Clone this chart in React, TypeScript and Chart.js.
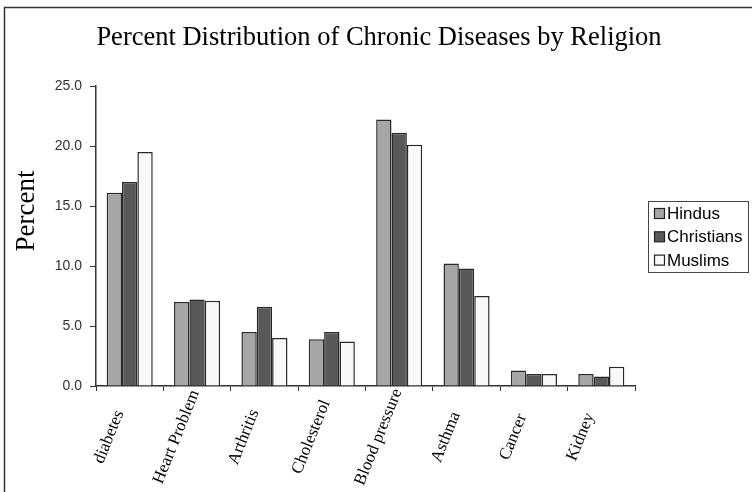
import React, { useEffect, useRef } from "react";
import { Chart, registerables } from "chart.js";

Chart.register(...registerables);

const categories = [
  "diabetes",
  "Heart Problem",
  "Arthritis",
  "Cholesterol",
  "Blood pressure",
  "Asthma",
  "Cancer",
  "Kidney",
];
const hindus = [16.1, 7.0, 4.5, 3.9, 22.2, 10.2, 1.3, 1.0];
const christians = [17.0, 7.2, 6.6, 4.5, 21.1, 9.8, 1.0, 0.8];
const muslims = [19.5, 7.1, 4.0, 3.7, 20.1, 7.5, 1.0, 1.6];
const seriesNames = ["Hindus", "Christians", "Muslims"];
const seriesColors = ["#a6a6a6", "#595959", "#f8f8f8"];
const yTicks = [0, 5, 10, 15, 20, 25];
const titleText = "Percent Distribution of Chronic Diseases by Religion";
const yTitleText = "Percent";

const LABEL_ANGLE = (68 * Math.PI) / 180;
const LABEL_DIST = 55;

const decorPlugin = {
  id: "decor",
  beforeDraw(chart: any) {
    const ctx = chart.ctx;
    ctx.save();
    ctx.fillStyle = "#ffffff";
    ctx.fillRect(0, 0, chart.width, chart.height);
    ctx.strokeStyle = "#333333";
    ctx.lineWidth = 1.5;
    ctx.beginPath();
    ctx.moveTo(4.5, chart.height + 5);
    ctx.lineTo(4.5, 7.5);
    ctx.lineTo(chart.width + 5, 7.5);
    ctx.stroke();
    ctx.restore();
  },
  afterDraw(chart: any) {
    const ctx = chart.ctx;
    ctx.save();
    // title
    ctx.fillStyle = "#000000";
    ctx.font = "26.5px 'Liberation Serif', 'Times New Roman', serif";
    ctx.textAlign = "center";
    ctx.textBaseline = "alphabetic";
    ctx.fillText(titleText, 379, 45);
    // y title
    ctx.save();
    ctx.translate(34, 211);
    ctx.rotate(-Math.PI / 2);
    ctx.font = "27px 'Liberation Serif', 'Times New Roman', serif";
    ctx.textAlign = "center";
    ctx.textBaseline = "alphabetic";
    ctx.fillText(yTitleText, 0, 0);
    ctx.restore();
    // x category labels (rotated, centered)
    const xs = chart.scales.x;
    const baseY = chart.chartArea.bottom;
    ctx.font = "17px 'Liberation Serif', 'Times New Roman', serif";
    ctx.textAlign = "center";
    ctx.textBaseline = "middle";
    ctx.fillStyle = "#000000";
    (chart.data.labels as string[]).forEach((lab: string, i: number) => {
      const tx = xs.getPixelForValue(i);
      const cx = tx - LABEL_DIST * Math.cos(LABEL_ANGLE);
      const cy = baseY + LABEL_DIST * Math.sin(LABEL_ANGLE);
      ctx.save();
      ctx.translate(cx, cy);
      ctx.rotate(-LABEL_ANGLE);
      ctx.fillText(lab, 0, 0);
      ctx.restore();
    });
    // legend
    const lx = 648.5;
    const ly = 201.5;
    const lw = 100;
    const lh = 71;
    ctx.strokeStyle = "#444444";
    ctx.lineWidth = 1;
    ctx.strokeRect(lx, ly, lw, lh);
    ctx.font = "17px 'Liberation Sans', Arial, sans-serif";
    ctx.textAlign = "left";
    ctx.textBaseline = "middle";
    chart.data.datasets.forEach((ds: any, i: number) => {
      const cy = 213.5 + i * 23.3;
      ctx.fillStyle = ds.backgroundColor;
      ctx.fillRect(654.5, cy - 5, 10, 10);
      ctx.strokeStyle = "#222222";
      ctx.lineWidth = 1.2;
      ctx.strokeRect(654.5, cy - 5, 10, 10);
      ctx.fillStyle = "#000000";
      ctx.fillText(ds.label, 667, cy + 1);
    });
    ctx.restore();
  },
};

export default function App() {
  const canvasRef = useRef<HTMLCanvasElement | null>(null);

  useEffect(() => {
    document.body.style.margin = "0";
    const canvas = canvasRef.current;
    if (!canvas) return;
    const seriesData = [hindus, christians, muslims];
    const chart = new Chart(canvas, {
      type: "bar",
      data: {
        labels: categories,
        datasets: seriesNames.map((name, i) => ({
          label: name,
          data: seriesData[i],
          backgroundColor: seriesColors[i],
          borderColor: "#2a2a2a",
          borderWidth: 1.5,
          categoryPercentage: 0.684,
          barPercentage: 1.0,
        })),
      },
      options: {
        responsive: false,
        animation: false,
        devicePixelRatio: 1,
        layout: { padding: { left: 0, top: 86, right: 117, bottom: 0 } },
        plugins: {
          legend: { display: false },
          title: { display: false },
          tooltip: { enabled: false },
        },
        scales: {
          x: {
            offset: true,
            grid: {
              display: true,
              offset: true,
              drawOnChartArea: false,
              drawTicks: true,
              tickLength: 5,
              color: "#333333",
              lineWidth: 1,
            },
            border: { display: true, color: "#333333", width: 1.5 },
            ticks: {
              display: false,
              autoSkip: false,
            },
            afterFit(scale: any) {
              scale.height = 106;
            },
          },
          y: {
            min: 0,
            max: 25,
            afterBuildTicks(scale: any) {
              scale.ticks = yTicks.map((v) => ({ value: v }));
            },
            grid: {
              display: true,
              drawOnChartArea: false,
              drawTicks: true,
              tickLength: 6,
              color: "#333333",
              lineWidth: 1,
            },
            border: { display: true, color: "#333333", width: 1.5 },
            ticks: {
              padding: 8,
              color: "#333333",
              font: { family: "'Liberation Sans', Arial, sans-serif", size: 14 },
              callback: (v: any) => Number(v).toFixed(1),
            },
            afterFit(scale: any) {
              scale.width = 96;
            },
          },
        },
      },
      plugins: [decorPlugin],
    });
    return () => chart.destroy();
  }, []);

  return (
    <div style={{ width: 752, height: 492 }}>
      <canvas ref={canvasRef} width={752} height={492} />
    </div>
  );
}
